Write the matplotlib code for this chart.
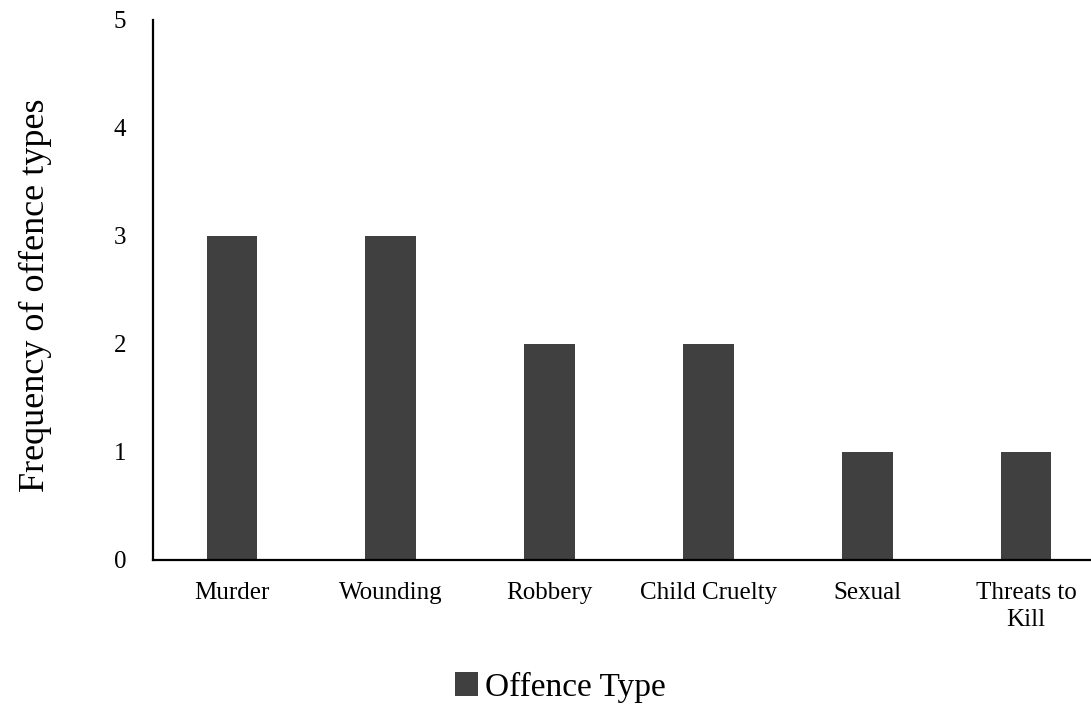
import matplotlib
matplotlib.use("Agg")
import matplotlib.pyplot as plt

categories = ["Murder", "Wounding", "Robbery", "Child Cruelty", "Sexual", "Threats to\nKill"]
values = [3, 3, 2, 2, 1, 1]
series_name = "Offence Type"
yticks = [0, 1, 2, 3, 4, 5]

plt.rcParams['font.family'] = ['Liberation Serif', 'DejaVu Serif']

fig = plt.figure(figsize=(10.91, 7.05), dpi=100)
W, H = 1091, 705
left, right = 152.5, 1105.5
bottom, top = 560, 20
ax = fig.add_axes([left / W, 1 - bottom / H, (right - left) / W, (bottom - top) / H])

x = list(range(len(categories)))
bars = ax.bar(x, values, width=0.32, color="#404040", label=series_name, zorder=2)

ax.set_xlim(-0.5, len(categories) - 0.5)
ax.set_ylim(0, 5)
ax.set_yticks(yticks)
ax.set_xticks(x)
ax.set_xticklabels(categories, fontsize=18, linespacing=1.3)
ax.tick_params(axis='y', labelsize=18, length=0, pad=19)
ax.tick_params(axis='x', length=0, pad=16)
for s in ["top", "right"]:
    ax.spines[s].set_visible(False)
for s in ["left", "bottom"]:
    ax.spines[s].set_linewidth(1.6)
    ax.spines[s].set_color("black")

fig.text(35 / W, 1 - 295 / H, "Frequency of offence types", rotation=90,
         fontsize=26, ha="center", va="center")

fig.legend(handles=[bars], labels=[series_name], loc="center",
           bbox_to_anchor=(560 / W, 1 - 687 / H), frameon=False, fontsize=24,
           handlelength=0.7, handleheight=0.7, handletextpad=0.2)

fig.savefig("out.png", dpi=100)
